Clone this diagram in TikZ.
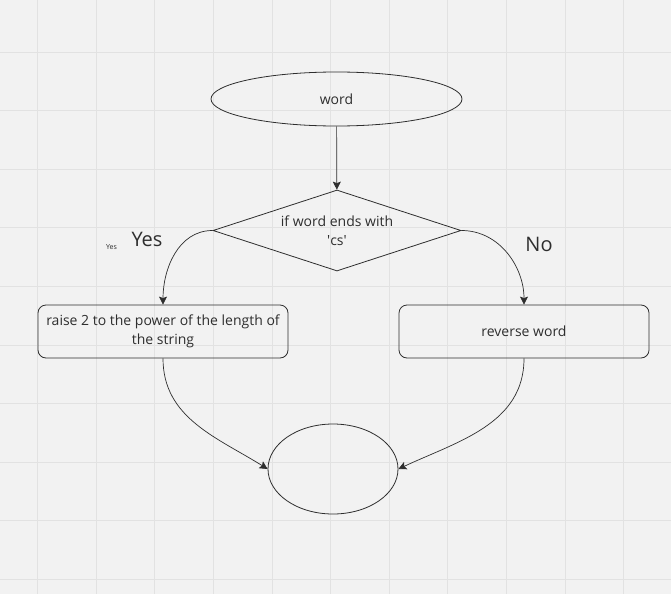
\documentclass[tikz,border=0pt]{standalone}
\usepackage{fontspec}
\setmainfont{Open Sans}
\usetikzlibrary{shapes.geometric,arrows.meta}
\definecolor{paper}{HTML}{F2F2F2}
\definecolor{gridline}{HTML}{E2E2E2}
\definecolor{ink}{HTML}{2E2E2E}
\begin{document}
\begin{tikzpicture}[x=1pt,y=1pt,
    every node/.style={text=ink,font=\fontsize{14}{19.5}\selectfont},
    term/.style={ellipse,draw=ink,line width=.8pt,inner sep=0pt},
    test/.style={diamond,aspect=3.06,draw=ink,line width=.8pt,minimum width=248pt,minimum height=81pt,inner sep=0pt,align=center},
    task/.style={rectangle,rounded corners=8pt,draw=ink,line width=.8pt,minimum width=250pt,minimum height=53pt,inner sep=0pt,align=center},
    flow/.style={draw=ink,line width=.7pt,-{Stealth[length=8pt,width=8pt,inset=1.5pt]}}]
    \useasboundingbox (0,0) rectangle (671,-594);
    \fill[paper] (0,0) rectangle (671,-594);
    % grid
    \foreach \gx in {0,...,10}
        \draw[gridline,line width=.8pt] ({37.5+58.6*\gx},0) -- ({37.5+58.6*\gx},-594);
    \foreach \gy in {0,...,9}
        \draw[gridline,line width=.8pt] (0,{-52-58.6*\gy}) -- (671,{-52-58.6*\gy});
    % shapes
    \node[term,minimum width=251pt,minimum height=54pt] (word) at (336.5,-99) {word};
    \node[test] (ends) at (337,-230.5) {if word ends with\\\textquotesingle cs\textquotesingle};
    \node[task] (raise) at (163,-331.5) {raise 2 to the power of the length of\\the string};
    \node[task] (reverse) at (524,-331.5) {reverse word};
    \node[term,minimum width=130pt,minimum height=90pt] (done) at (333,-469) {};
    % labels
    \node[font=\fontsize{7}{8}\selectfont] (yessmall) at (111.5,-247.5) {Yes};
    \node[font=\fontsize{20}{24}\selectfont] (yes) at (147,-239) {Yes};
    \node[font=\fontsize{20}{24}\selectfont] (no) at (539,-244) {No};
    % connectors
    \draw[flow] (word) -- (ends);
    \draw[flow] (ends.west) to[out=180,in=90] (raise.north);
    \draw[flow] (ends.east) to[out=0,in=90] (reverse.north);
    \draw[flow] (raise.south) to[out=-90,in=148] (done.west);
    \draw[flow] (reverse.south) to[out=-90,in=25] (done.east);
\end{tikzpicture}
\end{document}
